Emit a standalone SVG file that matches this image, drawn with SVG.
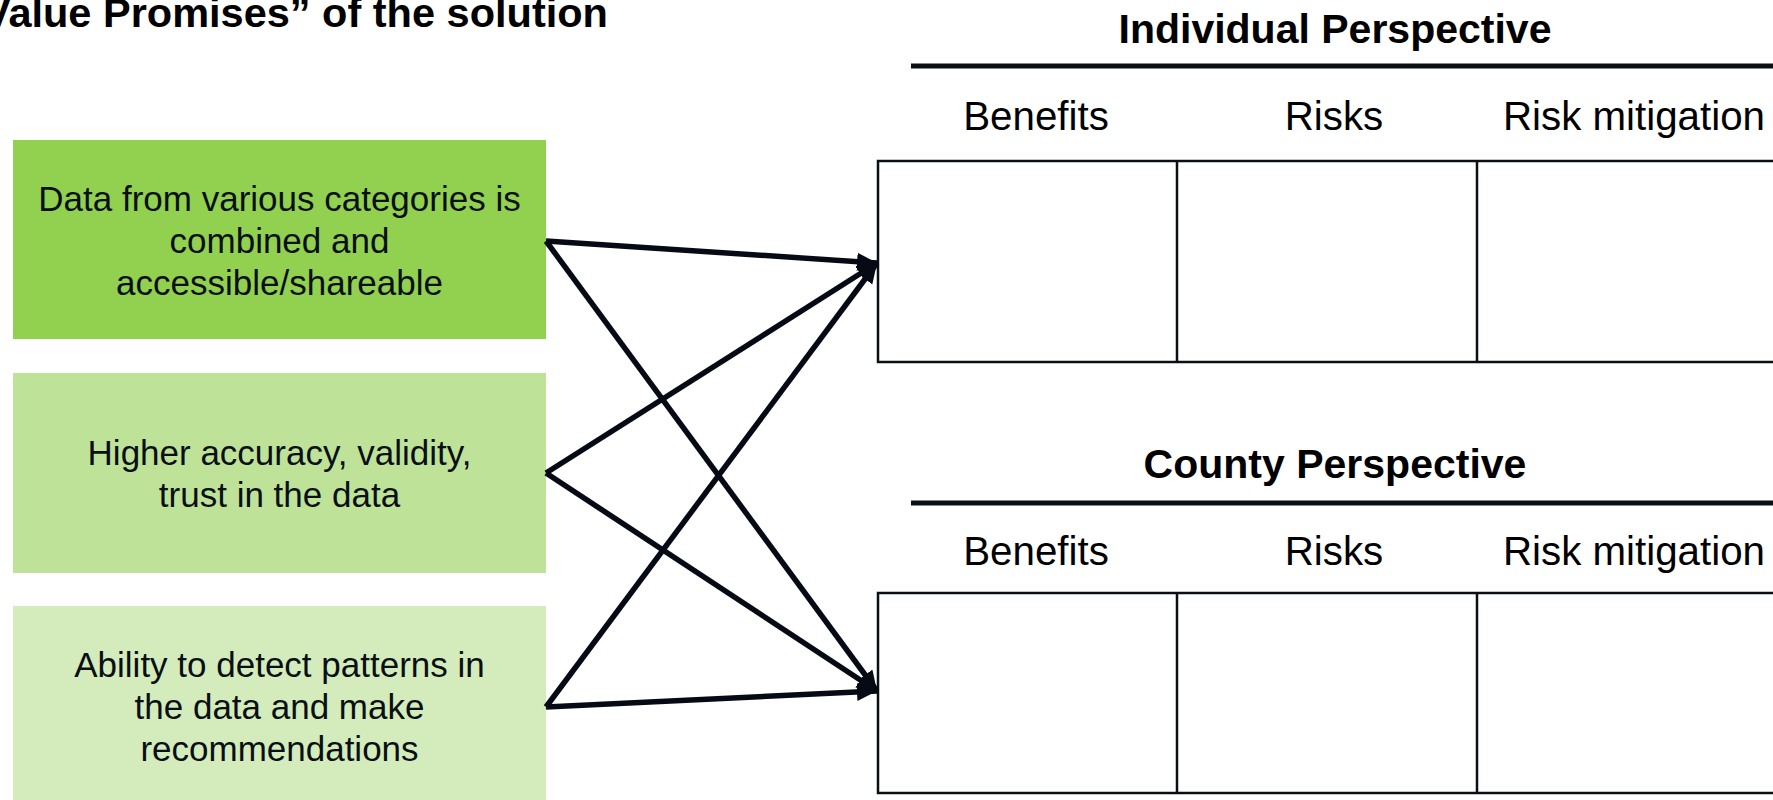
<svg xmlns="http://www.w3.org/2000/svg" width="1773" height="800" viewBox="0 0 1773 800">
<style>
text{font-family:"Liberation Sans",Arial,Helvetica,sans-serif;fill:#000}
.title{font-size:41.5px;font-weight:bold}
.hdr{font-size:41px;font-weight:bold;text-anchor:middle}
.col{font-size:40.3px;text-anchor:middle}
.box{font-size:35px;text-anchor:middle;fill:#0a0f14}
.rule{stroke:#0a0f14;stroke-width:5}
.tbl{fill:#fff;stroke:#0a0f14;stroke-width:2.5}
.conn{stroke:#050a14;stroke-width:5.5;fill:none;marker-end:url(#ah)}
</style>
<defs>
<marker id="ah" markerUnits="userSpaceOnUse" markerWidth="22" markerHeight="20" refX="20" refY="9" orient="auto">
<path d="M0,0 L20,9 L0,18 z" fill="#050a14"/>
</marker>
</defs>
<rect width="1773" height="800" fill="#fff"/>
<text class="title" x="-17" y="27">Value Promises” of the solution</text>

<g id="node-data">
<rect x="13" y="140" width="533" height="199" fill="#92D050"/>
<text class="box" x="279.5" y="210.5">Data from various categories is</text>
<text class="box" x="279.5" y="252.5">combined and</text>
<text class="box" x="279.5" y="294.5">accessible/shareable</text>
</g>
<g id="node-accuracy">
<rect x="13" y="373" width="533" height="200" fill="#BFE299"/>
<text class="box" x="279.5" y="465">Higher accuracy, validity,</text>
<text class="box" x="279.5" y="507">trust in the data</text>
</g>
<g id="node-patterns">
<rect x="13" y="606" width="533" height="200" fill="#D4ECBB"/>
<text class="box" x="279.5" y="677">Ability to detect patterns in</text>
<text class="box" x="279.5" y="719">the data and make</text>
<text class="box" x="279.5" y="761">recommendations</text>
</g>

<g id="individual-perspective">
<text class="hdr" x="1335" y="43">Individual Perspective</text>
<line class="rule" x1="911" y1="66" x2="1773" y2="66"/>
<text class="col" x="1036" y="130">Benefits</text>
<text class="col" x="1334" y="130">Risks</text>
<text class="col" x="1634" y="130">Risk mitigation</text>
<rect class="tbl" x="878" y="161" width="920" height="201"/>
<line class="tbl" x1="1177" y1="161" x2="1177" y2="362"/>
<line class="tbl" x1="1477" y1="161" x2="1477" y2="362"/>
</g>

<g id="county-perspective">
<text class="hdr" x="1335" y="478">County Perspective</text>
<line class="rule" x1="911" y1="503" x2="1773" y2="503"/>
<text class="col" x="1036" y="565">Benefits</text>
<text class="col" x="1334" y="565">Risks</text>
<text class="col" x="1634" y="565">Risk mitigation</text>
<rect class="tbl" x="878" y="593" width="920" height="200"/>
<line class="tbl" x1="1177" y1="593" x2="1177" y2="793"/>
<line class="tbl" x1="1477" y1="593" x2="1477" y2="793"/>
</g>

<g id="connectors">
<line class="conn" x1="546" y1="241" x2="877" y2="263"/>
<line class="conn" x1="546" y1="241" x2="877" y2="691"/>
<line class="conn" x1="546" y1="473" x2="877" y2="263"/>
<line class="conn" x1="546" y1="473" x2="877" y2="691"/>
<line class="conn" x1="546" y1="707" x2="877" y2="263"/>
<line class="conn" x1="546" y1="707" x2="877" y2="691"/>
</g>
</svg>
